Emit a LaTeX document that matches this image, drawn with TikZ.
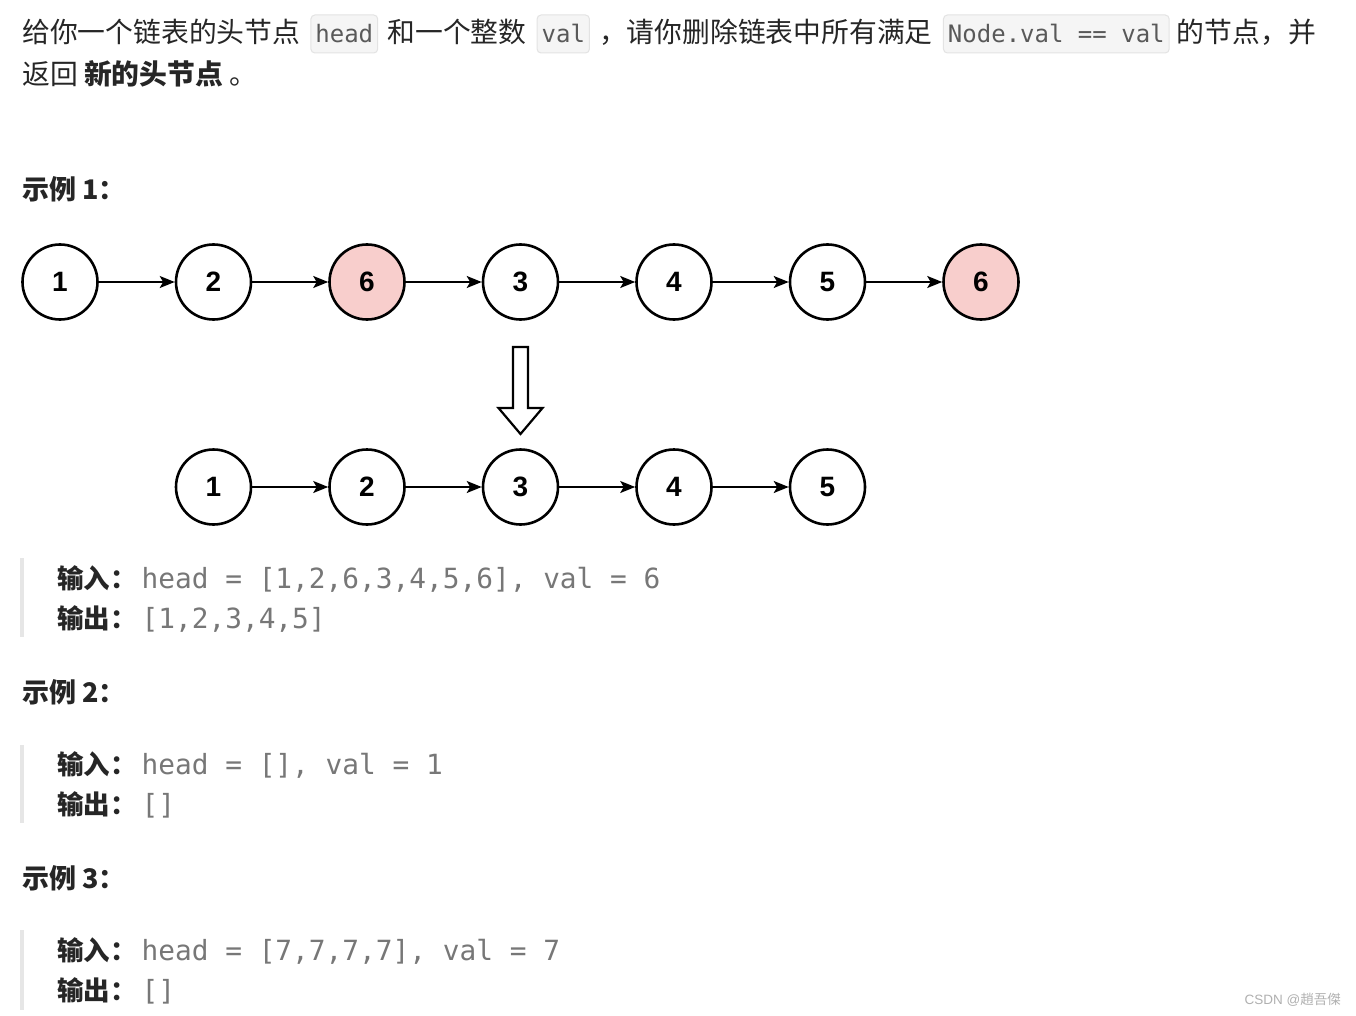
\documentclass[tikz,border=0pt]{standalone}
\usepackage{fontspec}
\setmainfont{Noto Sans CJK SC}
\setmonofont{DejaVu Sans Mono}
\newfontfamily\numfont{Liberation Sans}
\usepackage{xcolor}
\usepackage{tikz}
\usetikzlibrary{arrows.meta,positioning}
\definecolor{txtdark}{HTML}{262626}
\definecolor{codegray}{HTML}{595959}
\definecolor{codefill}{HTML}{F5F5F5}
\definecolor{codeedge}{HTML}{E3E3E3}
\definecolor{quotebar}{HTML}{E6E6E6}
\definecolor{outgray}{HTML}{777777}
\definecolor{delpink}{HTML}{F8CECC}
\definecolor{markgray}{HTML}{B0B0B0}

\begin{document}
\begin{tikzpicture}[
    x=1pt, y=-1pt,
    node distance=75.9pt,
    txt/.style={inner sep=0pt, text=txtdark, font=\fontsize{27.8}{33}\selectfont},
    code/.style={rectangle, rounded corners=4pt, draw=codeedge, fill=codefill, line width=1pt, inner xsep=4.5pt, inner ysep=0pt, text height=28pt, text depth=10pt, text=codegray, font=\ttfamily\fontsize{24}{28}\selectfont},
    exhead/.style={inner sep=0pt, text=txtdark, font=\bfseries\fontsize{27}{32}\selectfont},
    lbl/.style={inner sep=0pt, text=txtdark, font=\bfseries\fontsize{26.5}{32}\selectfont},
    mono/.style={inner sep=0pt, text=outgray, font=\ttfamily\fontsize{27.8}{32}\selectfont},
    lnode/.style={circle, draw=black, fill=white, line width=2.6pt, minimum size=75pt, inner sep=0pt, font=\numfont\bfseries\fontsize{28}{32}\selectfont},
    del/.style={fill=delpink},
    arr/.style={-{Stealth[length=15pt,width=12pt,inset=3.5pt]}, line width=2pt, draw=black},
    hollow/.style={draw=black, fill=white, line width=2.2pt, line join=miter},
    bar/.style={fill=quotebar}
]
    \fill [white] (0,0) rectangle (1356,1016);
    \useasboundingbox (0,0) rectangle (1356,1016);

    % Problem statement
    \node (p1) [txt, anchor=base west] at (22,43) {给你一个链表的头节点};
    \node (c1) [code, base right=10pt of p1] {head};
    \node (p2) [txt, base right=9pt of c1] {和一个整数};
    \node (c2) [code, base right=10pt of p2] {val};
    \node (p3) [txt, base right=9pt of c2] {，请你删除链表中所有满足};
    \node (c3) [code, base right=10pt of p3] {Node.val == val};
    \node (p4) [txt, base right=7pt of c3] {的节点，并};
    \node (p5) [txt, anchor=base west] at (22,85) {返回 \textbf{新的头节点} 。};

    % Example 1
    \node (ex1) [exhead, anchor=base west] at (22,200) {示例 1：};

    \node (a1) [lnode] at (60,282) {1};
    \node (a2) [lnode, right=of a1] {2};
    \node (a3) [lnode, del, right=of a2] {6};
    \node (a4) [lnode, right=of a3] {3};
    \node (a5) [lnode, right=of a4] {4};
    \node (a6) [lnode, right=of a5] {5};
    \node (a7) [lnode, del, right=of a6] {6};

    \draw [arr] (a1) -- (a2);
    \draw [arr] (a2) -- (a3);
    \draw [arr] (a3) -- (a4);
    \draw [arr] (a4) -- (a5);
    \draw [arr] (a5) -- (a6);
    \draw [arr] (a6) -- (a7);

    % Result
    \draw [hollow] (513,347) -- (528,347) -- (528,408) -- (542.5,408) -- (520.5,434) -- (498.5,408) -- (513,408) -- cycle;

    \node (b1) [lnode, below=127.4pt of a2] {1};
    \node (b2) [lnode, right=of b1] {2};
    \node (b3) [lnode, right=of b2] {3};
    \node (b4) [lnode, right=of b3] {4};
    \node (b5) [lnode, right=of b4] {5};

    \draw [arr] (b1) -- (b2);
    \draw [arr] (b2) -- (b3);
    \draw [arr] (b3) -- (b4);
    \draw [arr] (b4) -- (b5);

    \fill [bar] (20,558) rectangle (24,637);
    \node (in1) [lbl, anchor=base west] at (57,588) {输入：};
    \node (in1v) [mono, base right=4.5pt of in1] {head = [1,2,6,3,4,5,6], val = 6};
    \node (out1) [lbl, anchor=base west] at (57,628) {输出：};
    \node (out1v) [mono, base right=4.5pt of out1] {[1,2,3,4,5]};

    % Example 2
    \node (ex2) [exhead, anchor=base west] at (22,702) {示例 2：};
    \fill [bar] (20,745) rectangle (24,823);
    \node (in2) [lbl, anchor=base west] at (57,774) {输入：};
    \node (in2v) [mono, base right=4.5pt of in2] {head = [], val = 1};
    \node (out2) [lbl, anchor=base west] at (57,814) {输出：};
    \node (out2v) [mono, base right=4.5pt of out2] {[]};

    % Example 3
    \node (ex3) [exhead, anchor=base west] at (22,888) {示例 3：};
    \fill [bar] (20,930) rectangle (24,1010);
    \node (in3) [lbl, anchor=base west] at (57,960) {输入：};
    \node (in3v) [mono, base right=4.5pt of in3] {head = [7,7,7,7], val = 7};
    \node (out3) [lbl, anchor=base west] at (57,1000) {输出：};
    \node (out3v) [mono, base right=4.5pt of out3] {[]};

    % Watermark
    \node (wm) [anchor=base east, inner sep=0pt, text=markgray, font=\fontsize{13.5}{16}\selectfont] at (1341,1004) {{\numfont CSDN @}趙吾傑};
\end{tikzpicture}
\end{document}
